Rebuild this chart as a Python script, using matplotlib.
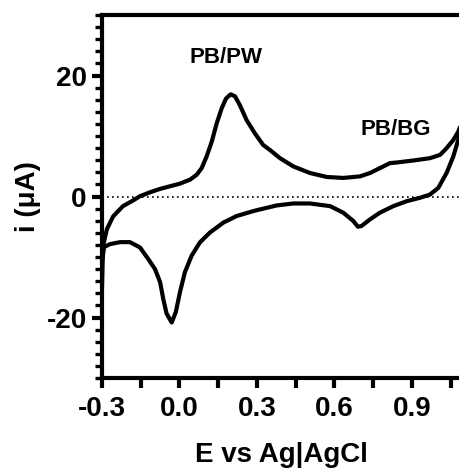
import numpy as np
import matplotlib.pyplot as plt

plt.rcParams['font.family'] = ['Liberation Sans', 'DejaVu Sans']
plt.rcParams['font.weight'] = 'bold'
plt.rcParams['axes.unicode_minus'] = False

# forward (anodic) sweep
E_fwd = [-0.300, -0.296, -0.281, -0.257, -0.219, -0.180, -0.153, -0.114, -0.075, -0.037,
         0.002, 0.041, 0.067, 0.086, 0.105, 0.125, 0.144, 0.163, 0.180, 0.198,
         0.215, 0.234, 0.260, 0.292, 0.324, 0.350, 0.389, 0.441, 0.505, 0.570,
         0.634, 0.699, 0.738, 0.776, 0.815, 0.841, 0.905, 0.970, 1.009, 1.034,
         1.060, 1.079, 1.098]
i_fwd = [-15.2, -8.2, -5.4, -3.3, -1.6, -0.66, 0.05, 0.70, 1.26, 1.69,
         2.13, 2.79, 3.61, 4.70, 6.61, 9.07, 12.08, 14.54, 16.18, 16.89,
         16.56, 15.08, 12.62, 10.44, 8.52, 7.7, 6.34, 4.97, 3.89, 3.23,
         3.07, 3.33, 3.89, 4.70, 5.52, 5.62, 5.95, 6.34, 6.89, 7.98,
         9.34, 10.70, 12.8]

# reverse (cathodic) sweep
E_rev = [1.098, 1.079, 1.060, 1.034, 1.002, 0.970, 0.931, 0.880, 0.828, 0.776,
         0.738, 0.705, 0.691, 0.673, 0.634, 0.583, 0.505, 0.441, 0.376, 0.312,
         0.286, 0.221, 0.170, 0.118, 0.079, 0.047, 0.021, 0.002, -0.014, -0.030,
         -0.050, -0.063, -0.075, -0.095, -0.121, -0.153, -0.192, -0.230, -0.269, -0.292,
         -0.298]
i_rev = [12.8, 9.34, 6.61, 3.89, 1.43, 0.33, -0.21, -0.77, -1.59, -2.67,
         -3.77, -4.87, -5.0, -4.05, -2.67, -1.59, -1.15, -1.15, -1.48, -2.13,
         -2.41, -3.23, -4.31, -5.95, -7.59, -9.79, -12.51, -15.79, -19.07, -20.82,
         -19.34, -16.89, -14.15, -11.97, -10.33, -8.41, -7.54, -7.54, -7.87, -8.36,
         -10.3]

xticks = [-0.3, 0.0, 0.3, 0.6, 0.9]
xtick_labels = ['-0.3', '0.0', '0.3', '0.6', '0.9']
yticks = [-20, 0, 20]

fig = plt.figure(figsize=(4.6, 4.69), dpi=100)
ax = fig.add_axes([0.2217, 0.194, 0.7783, 0.774])

ax.axhline(0, color='black', lw=1.2, ls=(0, (1, 2)), zorder=1)
ax.plot(E_fwd, i_fwd, color='black', lw=3, solid_joinstyle='round', solid_capstyle='round')
ax.plot(E_rev, i_rev, color='black', lw=3, solid_joinstyle='round', solid_capstyle='round')

ax.text(0.181, 22.9, 'PB/PW', fontsize=16, fontweight='bold', ha='center', va='center')
ax.text(0.839, 11.0, 'PB/BG', fontsize=16, fontweight='bold', ha='center', va='center')

ax.set_xlim(-0.3, 1.086)
ax.set_ylim(-30, 30)
ax.set_xticks(xticks)
ax.set_xticklabels(xtick_labels)
ax.set_xticks(np.arange(-0.15, 1.1, 0.3), minor=True)
ax.set_yticks(yticks)
ax.set_yticks(np.arange(-30, 31, 2), minor=True)

for side in ['left', 'bottom', 'top']:
    ax.spines[side].set_linewidth(3)
ax.spines['right'].set_visible(False)

ax.tick_params(which='major', length=7, width=3, labelsize=20, pad=4)
ax.tick_params(axis='x', which='major', pad=6)
ax.tick_params(which='minor', length=5, width=2.4)
ax.tick_params(axis='x', which='minor', length=7, width=3)

ax.set_xlabel('E vs Ag|AgCl', fontsize=20, fontweight='bold', labelpad=14)
ax.set_ylabel('i (μA)', fontsize=20, fontweight='bold', labelpad=4)

plt.savefig('out.png', dpi=100)
